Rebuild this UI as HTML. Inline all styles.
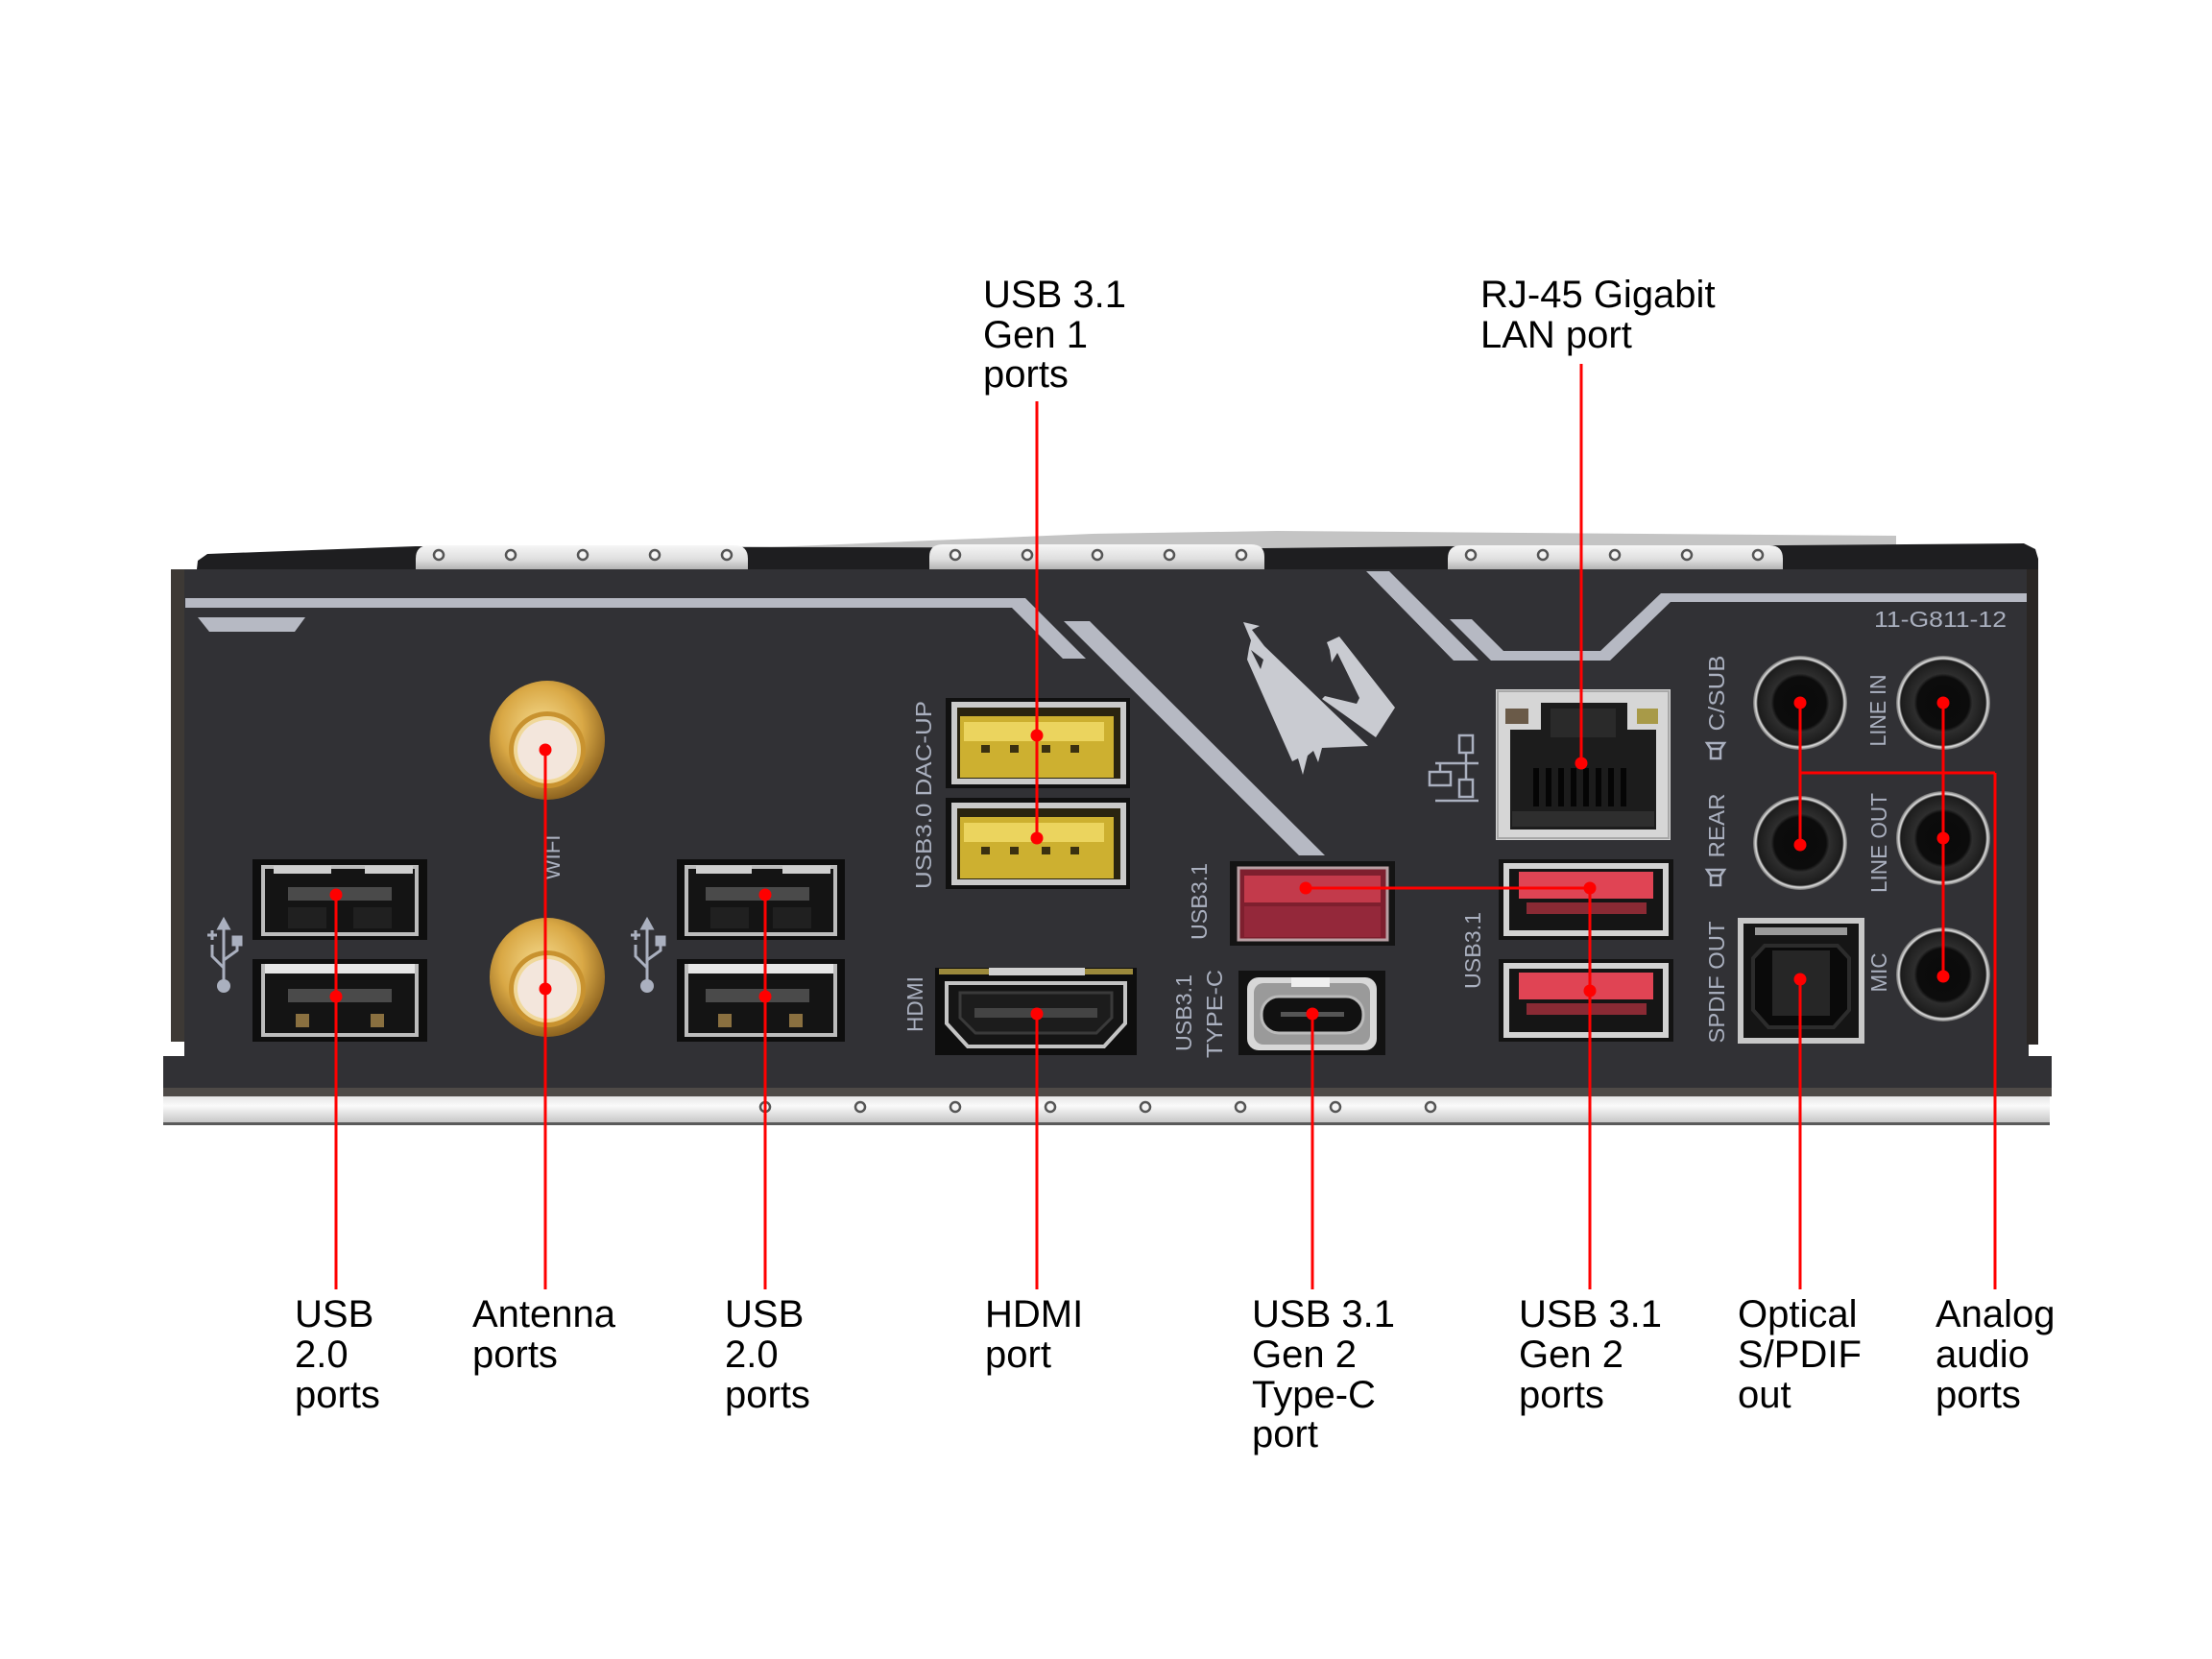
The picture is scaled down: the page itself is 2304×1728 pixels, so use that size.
<!DOCTYPE html>
<html><head><meta charset="utf-8"><style>
html,body{margin:0;padding:0;background:#fff;}
svg{display:block;}
.lbl{font-family:"Liberation Sans",Arial,sans-serif;font-size:40px;fill:#000;}
.bt{font-family:"Liberation Sans",Arial,sans-serif;fill:#aab0bf;font-size:23px;}
</style></head><body>
<svg width="2304" height="1728" viewBox="0 0 2304 1728" xmlns="http://www.w3.org/2000/svg">
<defs>
<linearGradient id="silv" x1="0" y1="0" x2="0" y2="1"><stop offset="0" stop-color="#f6f6f6"/><stop offset="0.6" stop-color="#dedede"/><stop offset="1" stop-color="#b4b4b4"/></linearGradient>
<linearGradient id="strip" x1="0" y1="0" x2="0" y2="1"><stop offset="0" stop-color="#e6e6e6"/><stop offset="0.35" stop-color="#fafafa"/><stop offset="1" stop-color="#c4c4c4"/></linearGradient>
<radialGradient id="gold" cx="0.45" cy="0.4" r="0.6"><stop offset="0" stop-color="#f6dc90"/><stop offset="0.6" stop-color="#d9a845"/><stop offset="1" stop-color="#8e6420"/></radialGradient>
<radialGradient id="jack" cx="0.5" cy="0.5" r="0.5"><stop offset="0" stop-color="#0a0a0a"/><stop offset="0.55" stop-color="#0c0c0c"/><stop offset="0.62" stop-color="#2e2e2e"/><stop offset="0.9" stop-color="#1c1c1c"/><stop offset="0.94" stop-color="#e0e0e0"/><stop offset="1" stop-color="#6a6a6a"/></radialGradient>
</defs>
<rect width="2304" height="1728" fill="#fff"/>

<!-- top back -->
<polygon points="779,571 1138,556 1330,553 1975,558 1975,569 779,576" fill="#c4c4c4"/>
<polygon points="205,593 206,584 216,577 433,569 1317,571 1508,569 1857,568 2108,566 2120,572 2123,582 2123,593" fill="#1e1e20"/>
<!-- tabs -->
<path d="M433,593 L433,582 Q433,568 447,568 L765,568 Q779,568 779,582 L779,593 Z" fill="url(#silv)"/>
<path d="M968,593 L968,580 Q968,567 982,567 L1303,567 Q1317,567 1317,580 L1317,593 Z" fill="url(#silv)"/>
<path d="M1508,593 L1508,582 Q1508,568 1522,568 L1843,568 Q1857,568 1857,582 L1857,593 Z" fill="url(#silv)"/>
<g fill="#f4f4f4" stroke="#555" stroke-width="2.5">
<circle cx="457" cy="578" r="5"/><circle cx="532" cy="578" r="5"/><circle cx="607" cy="578" r="5"/><circle cx="682" cy="578" r="5"/><circle cx="757" cy="578" r="5"/>
<circle cx="995" cy="578" r="5"/><circle cx="1070" cy="578" r="5"/><circle cx="1143" cy="578" r="5"/><circle cx="1218" cy="578" r="5"/><circle cx="1293" cy="578" r="5"/>
<circle cx="1532" cy="578" r="5"/><circle cx="1607" cy="578" r="5"/><circle cx="1682" cy="578" r="5"/><circle cx="1757" cy="578" r="5"/><circle cx="1831" cy="578" r="5"/>
</g>

<!-- plate -->
<rect x="192" y="593" width="1921" height="540" fill="#313135"/>
<rect x="178" y="593" width="14" height="492" fill="#3d3935"/>
<rect x="2111" y="593" width="12" height="495" fill="#2a2624"/>
<rect x="170" y="1100" width="1967" height="33" fill="#313135"/>
<rect x="170" y="1133" width="1967" height="9" fill="#4e4a47"/>
<rect x="170" y="1142" width="1965" height="28" fill="url(#strip)"/>
<rect x="170" y="1169" width="1965" height="3" fill="#5a5a5a"/>
<g fill="#f4f4f4" stroke="#555" stroke-width="2.5">
<circle cx="797" cy="1153" r="5"/><circle cx="896" cy="1153" r="5"/><circle cx="995" cy="1153" r="5"/><circle cx="1094" cy="1153" r="5"/><circle cx="1193" cy="1153" r="5"/><circle cx="1292" cy="1153" r="5"/><circle cx="1391" cy="1153" r="5"/><circle cx="1490" cy="1153" r="5"/>
</g>

<!-- stripes -->
<g fill="#b6b9c3">
<polygon points="193,623 1068,623 1131,686 1107,686 1054,633 193,633"/>
<polygon points="206,643 318,643 307,658 218,658"/>
<polygon points="1108,647 1135,647 1380,891 1353,891"/>
<polygon points="1423,595 1447,595 1540,688 1514,688"/>
<polygon points="1510,645 1533,645 1566,678 1667,678 1730,618 2111,618 2111,627 1740,627 1677,688 1553,688"/>
</g>
<!-- aorus logo -->
<g fill="#c9cbd1">
<polygon points="1295,648 1312,652 1304,656 1317,673 1425,777 1377,779 1373,794 1368,782 1362,787 1357,807 1352,790 1346,793 1299,687 1301,675 1303,667"/>
<polygon points="1382,669 1395,663 1453,737 1433,768 1377,728 1380,725 1413,733 1416,727 1393,680 1387,690 1385,677"/>
</g>
<polygon points="1303,677 1316,687 1313,697" fill="#313135"/>

<!-- USB 2.0 left -->
<g>
<rect x="263" y="895" width="182" height="84" fill="#0e0e0e"/>
<rect x="274" y="903" width="160" height="70" fill="#141414" stroke="#bcbcbc" stroke-width="4"/>
<rect x="285" y="902" width="60" height="8" fill="#cfcfcf"/><rect x="380" y="902" width="50" height="8" fill="#cfcfcf"/>
<rect x="300" y="924" width="108" height="14" fill="#4a4a4a"/>
<rect x="300" y="945" width="40" height="22" fill="#202020"/><rect x="368" y="945" width="40" height="22" fill="#202020"/>
<rect x="263" y="999" width="182" height="86" fill="#0e0e0e"/>
<rect x="274" y="1006" width="160" height="72" fill="#141414" stroke="#bcbcbc" stroke-width="4"/>
<rect x="276" y="1004" width="156" height="10" fill="#e6e6e6"/>
<rect x="300" y="1030" width="108" height="14" fill="#4a4a4a"/>
<rect x="308" y="1056" width="14" height="14" fill="#8a7040"/><rect x="386" y="1056" width="14" height="14" fill="#8a7040"/>
</g>
<!-- USB 2.0 middle -->
<g>
<rect x="705" y="895" width="175" height="84" fill="#0e0e0e"/>
<rect x="715" y="903" width="155" height="70" fill="#141414" stroke="#bcbcbc" stroke-width="4"/>
<rect x="725" y="902" width="58" height="8" fill="#cfcfcf"/><rect x="815" y="902" width="50" height="8" fill="#cfcfcf"/>
<rect x="735" y="924" width="108" height="14" fill="#4a4a4a"/>
<rect x="740" y="945" width="40" height="22" fill="#202020"/><rect x="805" y="945" width="40" height="22" fill="#202020"/>
<rect x="705" y="999" width="175" height="86" fill="#0e0e0e"/>
<rect x="715" y="1006" width="155" height="72" fill="#141414" stroke="#bcbcbc" stroke-width="4"/>
<rect x="717" y="1004" width="151" height="10" fill="#e6e6e6"/>
<rect x="735" y="1030" width="108" height="14" fill="#4a4a4a"/>
<rect x="748" y="1056" width="14" height="14" fill="#8a7040"/><rect x="822" y="1056" width="14" height="14" fill="#8a7040"/>
</g>

<!-- USB icons -->
<g fill="none" stroke="#aab0bf" stroke-width="3">
<line x1="233" y1="966" x2="233" y2="1022"/><path d="M233,958 l-5,9 h10 z" fill="#aab0bf"/>
<path d="M233,1008 L221,996 L221,984"/><path d="M233,1000 L247,990 L247,982"/>
<rect x="243" y="976" width="8" height="8" fill="#aab0bf"/>
<line x1="216" y1="974" x2="226" y2="974"/><line x1="221" y1="969" x2="221" y2="979"/>
<line x1="674" y1="966" x2="674" y2="1022"/><path d="M674,958 l-5,9 h10 z" fill="#aab0bf"/>
<path d="M674,1008 L662,996 L662,984"/><path d="M674,1000 L688,990 L688,982"/>
<rect x="684" y="976" width="8" height="8" fill="#aab0bf"/>
<line x1="657" y1="974" x2="667" y2="974"/><line x1="662" y1="969" x2="662" y2="979"/>
</g>
<circle cx="233" cy="1027" r="7" fill="#aab0bf"/>
<circle cx="674" cy="1027" r="7" fill="#aab0bf"/>

<!-- antennas -->
<g>
<ellipse cx="570" cy="771" rx="60" ry="62" fill="url(#gold)"/>
<circle cx="570" cy="781" r="40" fill="#c8922f"/>
<circle cx="570" cy="781" r="35" fill="#f0d89a"/>
<circle cx="570" cy="781" r="31" fill="#f3e6dc"/>
<ellipse cx="570" cy="1018" rx="60" ry="62" fill="url(#gold)"/>
<circle cx="570" cy="1030" r="40" fill="#c8922f"/>
<circle cx="570" cy="1030" r="35" fill="#f0d89a"/>
<circle cx="570" cy="1030" r="31" fill="#f3e6dc"/>
</g>

<!-- yellow USB 3.1 Gen1 -->
<g>
<rect x="985" y="727" width="192" height="94" fill="#101010"/>
<rect x="994" y="734" width="176" height="80" fill="#2a2410" stroke="#cacaca" stroke-width="6"/>
<rect x="1000" y="746" width="160" height="64" fill="#cdb030"/>
<rect x="1004" y="752" width="146" height="20" fill="#ebd45e"/>
<rect x="1022" y="776" width="9" height="8" fill="#3a3010"/><rect x="1052" y="776" width="9" height="8" fill="#3a3010"/><rect x="1085" y="776" width="9" height="8" fill="#3a3010"/><rect x="1115" y="776" width="9" height="8" fill="#3a3010"/>
<rect x="985" y="831" width="192" height="95" fill="#101010"/>
<rect x="994" y="839" width="176" height="80" fill="#2a2410" stroke="#cacaca" stroke-width="6"/>
<rect x="1000" y="851" width="160" height="64" fill="#cdb030"/>
<rect x="1004" y="857" width="146" height="20" fill="#ebd45e"/>
<rect x="1022" y="882" width="9" height="8" fill="#3a3010"/><rect x="1052" y="882" width="9" height="8" fill="#3a3010"/><rect x="1085" y="882" width="9" height="8" fill="#3a3010"/><rect x="1115" y="882" width="9" height="8" fill="#3a3010"/>
</g>

<!-- HDMI -->
<g>
<rect x="974" y="1008" width="210" height="91" fill="#0e0e0e"/>
<rect x="978" y="1009" width="202" height="6" fill="#9c8a3c"/>
<rect x="1030" y="1008" width="100" height="8" fill="#d0d0d0"/>
<polygon points="986,1024 1172,1024 1172,1066 1150,1090 1008,1090 986,1066" fill="#151515" stroke="#c4c4c4" stroke-width="4"/>
<polygon points="1000,1034 1158,1034 1158,1060 1142,1076 1016,1076 1000,1060" fill="#1c1c1c" stroke="#3a3a3a" stroke-width="3"/>
<rect x="1015" y="1050" width="128" height="10" fill="#444"/>
</g>

<!-- red USB3.1 single -->
<g>
<rect x="1281" y="897" width="172" height="88" fill="#141414"/>
<rect x="1290" y="904" width="155" height="75" fill="#7e1f2e" stroke="#b9a0a4" stroke-width="3"/>
<rect x="1296" y="912" width="142" height="28" fill="#c33a4b"/>
<rect x="1296" y="944" width="142" height="32" fill="#94283a"/>
</g>
<!-- Type-C -->
<g>
<rect x="1290" y="1011" width="153" height="88" fill="#121212"/>
<rect x="1299" y="1018" width="135" height="76" rx="12" fill="#d8d8d8"/>
<rect x="1306" y="1024" width="121" height="64" rx="10" fill="#9a9a9a"/>
<rect x="1314" y="1038" width="106" height="38" rx="18" fill="#111" stroke="#bbb" stroke-width="3"/>
<rect x="1334" y="1054" width="66" height="5" fill="#555"/>
<rect x="1345" y="1018" width="40" height="10" fill="#efefef"/>
</g>

<!-- RJ45 -->
<g>
<rect x="1558" y="718" width="182" height="157" fill="#d6d6d6"/>
<rect x="1560" y="720" width="178" height="153" fill="none" stroke="#a8a8a8" stroke-width="2"/>
<polygon points="1573,760 1605,760 1605,732 1695,732 1695,760 1725,760 1725,864 1573,864" fill="#1c1c1c"/>
<rect x="1615" y="738" width="68" height="30" fill="#2a2a2a"/>
<rect x="1568" y="738" width="24" height="16" fill="#6a5a48"/>
<rect x="1705" y="738" width="22" height="16" fill="#a89a48"/>
<g fill="#050505"><rect x="1597" y="800" width="6" height="40"/><rect x="1610" y="800" width="6" height="40"/><rect x="1623" y="800" width="6" height="40"/><rect x="1636" y="800" width="6" height="40"/><rect x="1649" y="800" width="6" height="40"/><rect x="1662" y="800" width="6" height="40"/><rect x="1675" y="800" width="6" height="40"/><rect x="1688" y="800" width="6" height="40"/></g>
<rect x="1575" y="845" width="148" height="16" fill="#2e2e2e"/>
</g>
<!-- LAN icon -->
<g fill="none" stroke="#aab0bf" stroke-width="2.5">
<rect x="1520" y="766" width="14" height="18"/><line x1="1527" y1="784" x2="1527" y2="795"/>
<line x1="1495" y1="795" x2="1540" y2="795"/>
<line x1="1500" y1="795" x2="1500" y2="804"/><rect x="1489" y="804" width="22" height="14"/>
<line x1="1527" y1="795" x2="1527" y2="812"/><rect x="1520" y="812" width="14" height="18"/>
<line x1="1495" y1="834" x2="1540" y2="834"/>
</g>

<!-- red USB gen2 stack -->
<g>
<rect x="1561" y="895" width="182" height="84" fill="#131313"/>
<rect x="1569" y="902" width="166" height="70" fill="#151515" stroke="#d2d2d2" stroke-width="6"/>
<rect x="1582" y="908" width="140" height="28" fill="#e04454"/>
<rect x="1590" y="940" width="125" height="12" fill="#8a2a34"/>
<rect x="1561" y="999" width="182" height="86" fill="#131313"/>
<rect x="1569" y="1006" width="166" height="72" fill="#151515" stroke="#d2d2d2" stroke-width="6"/>
<rect x="1582" y="1013" width="140" height="28" fill="#e04454"/>
<rect x="1590" y="1045" width="125" height="12" fill="#8a2a34"/>
</g>

<!-- optical -->
<g>
<rect x="1810" y="956" width="132" height="131" fill="#c8c8c8"/>
<rect x="1816" y="962" width="120" height="119" fill="#151515"/>
<rect x="1828" y="966" width="96" height="8" fill="#9a9a9a"/>
<polygon points="1838,985 1914,985 1926,998 1926,1052 1910,1070 1842,1070 1826,1052 1826,998" fill="#0a0a0a" stroke="#2c2c2c" stroke-width="4"/>
<rect x="1846" y="990" width="60" height="68" fill="#262626"/>
</g>

<!-- audio jacks -->
<g>
<circle cx="1875" cy="732" r="49" fill="url(#jack)"/>
<circle cx="2024" cy="732" r="49" fill="url(#jack)"/>
<circle cx="1875" cy="878" r="49" fill="url(#jack)"/>
<circle cx="2024" cy="873" r="49" fill="url(#jack)"/>
<circle cx="2024" cy="1015" r="49" fill="url(#jack)"/>
</g>

<!-- speaker icons -->
<g fill="none" stroke="#aab0bf" stroke-width="2.5">
<path d="M1782,780 h10 v10 h-10 z M1782,780 l-4,-6 h18 l-4,6"/>
<path d="M1782,912 h10 v10 h-10 z M1782,912 l-4,-6 h18 l-4,6"/>
</g>

<!-- board text -->
<text class="bt" transform="translate(962,828) rotate(-90)" text-anchor="middle" dominant-baseline="central" textLength="196" lengthAdjust="spacingAndGlyphs">USB3.0 DAC-UP</text>
<text class="bt" transform="translate(575,893) rotate(-90)" text-anchor="middle" dominant-baseline="central" textLength="47" lengthAdjust="spacingAndGlyphs">WIFI</text>
<text class="bt" transform="translate(953,1046) rotate(-90)" text-anchor="middle" dominant-baseline="central" textLength="58" lengthAdjust="spacingAndGlyphs">HDMI</text>
<text class="bt" transform="translate(1249,939) rotate(-90)" text-anchor="middle" dominant-baseline="central" textLength="80" lengthAdjust="spacingAndGlyphs">USB3.1</text>
<text class="bt" transform="translate(1233,1055) rotate(-90)" text-anchor="middle" dominant-baseline="central" textLength="80" lengthAdjust="spacingAndGlyphs">USB3.1</text>
<text class="bt" transform="translate(1265,1056) rotate(-90)" text-anchor="middle" dominant-baseline="central" textLength="92" lengthAdjust="spacingAndGlyphs">TYPE-C</text>
<text class="bt" transform="translate(1534,990) rotate(-90)" text-anchor="middle" dominant-baseline="central" textLength="80" lengthAdjust="spacingAndGlyphs">USB3.1</text>
<text class="bt" transform="translate(1788,722) rotate(-90)" text-anchor="middle" dominant-baseline="central" textLength="79" lengthAdjust="spacingAndGlyphs">C/SUB</text>
<text class="bt" transform="translate(1788,860) rotate(-90)" text-anchor="middle" dominant-baseline="central" textLength="67" lengthAdjust="spacingAndGlyphs">REAR</text>
<text class="bt" transform="translate(1788,1023) rotate(-90)" text-anchor="middle" dominant-baseline="central" textLength="127" lengthAdjust="spacingAndGlyphs">SPDIF OUT</text>
<text class="bt" transform="translate(1956,740) rotate(-90)" text-anchor="middle" dominant-baseline="central" textLength="75" lengthAdjust="spacingAndGlyphs">LINE IN</text>
<text class="bt" transform="translate(1957,878) rotate(-90)" text-anchor="middle" dominant-baseline="central" textLength="104" lengthAdjust="spacingAndGlyphs">LINE OUT</text>
<text class="bt" transform="translate(1957,1013) rotate(-90)" text-anchor="middle" dominant-baseline="central" textLength="41" lengthAdjust="spacingAndGlyphs">MIC</text>
<text class="bt" x="1952" y="653" font-size="21" textLength="138" lengthAdjust="spacingAndGlyphs">11-G811-12</text>

<!-- red connectors -->
<g stroke="#f00" stroke-width="3" fill="none">
<line x1="350" y1="932" x2="350" y2="1343"/>
<line x1="568" y1="781" x2="568" y2="1343"/>
<line x1="797" y1="932" x2="797" y2="1343"/>
<line x1="1080" y1="1056" x2="1080" y2="1343"/>
<line x1="1080" y1="418" x2="1080" y2="873"/>
<line x1="1647" y1="379" x2="1647" y2="795"/>
<line x1="1360" y1="925" x2="1656" y2="925"/>
<line x1="1656" y1="925" x2="1656" y2="1343"/>
<line x1="1367" y1="1056" x2="1367" y2="1343"/>
<line x1="1875" y1="1020" x2="1875" y2="1343"/>
<line x1="1875" y1="732" x2="1875" y2="880"/>
<line x1="2024" y1="732" x2="2024" y2="1017"/>
<line x1="1875" y1="805" x2="2078" y2="805"/>
<line x1="2078" y1="805" x2="2078" y2="1343"/>
</g>
<g fill="#f00">
<circle cx="350" cy="932" r="6.5"/><circle cx="350" cy="1038" r="6.5"/>
<circle cx="568" cy="781" r="6.5"/><circle cx="568" cy="1030" r="6.5"/>
<circle cx="797" cy="932" r="6.5"/><circle cx="797" cy="1038" r="6.5"/>
<circle cx="1080" cy="1056" r="6.5"/>
<circle cx="1080" cy="766" r="6.5"/><circle cx="1080" cy="873" r="6.5"/>
<circle cx="1647" cy="795" r="6.5"/>
<circle cx="1360" cy="925" r="6.5"/><circle cx="1656" cy="925" r="6.5"/><circle cx="1656" cy="1032" r="6.5"/>
<circle cx="1367" cy="1056" r="6.5"/>
<circle cx="1875" cy="1020" r="6.5"/>
<circle cx="1875" cy="732" r="6.5"/><circle cx="1875" cy="880" r="6.5"/>
<circle cx="2024" cy="732" r="6.5"/><circle cx="2024" cy="873" r="6.5"/><circle cx="2024" cy="1017" r="6.5"/>
</g>

<!-- labels -->
<g class="lbl">
<text x="1024" y="320">USB 3.1</text><text x="1024" y="362">Gen 1</text><text x="1024" y="403">ports</text>
<text x="1542" y="320">RJ-45 Gigabit</text><text x="1542" y="362">LAN port</text>
<text x="307" y="1382">USB</text><text x="307" y="1424">2.0</text><text x="307" y="1466">ports</text>
<text x="492" y="1382">Antenna</text><text x="492" y="1424">ports</text>
<text x="755" y="1382">USB</text><text x="755" y="1424">2.0</text><text x="755" y="1466">ports</text>
<text x="1026" y="1382">HDMI</text><text x="1026" y="1424">port</text>
<text x="1304" y="1382">USB 3.1</text><text x="1304" y="1424">Gen 2</text><text x="1304" y="1466">Type-C</text><text x="1304" y="1507">port</text>
<text x="1582" y="1382">USB 3.1</text><text x="1582" y="1424">Gen 2</text><text x="1582" y="1466">ports</text>
<text x="1810" y="1382">Optical</text><text x="1810" y="1424">S/PDIF</text><text x="1810" y="1466">out</text>
<text x="2016" y="1382">Analog</text><text x="2016" y="1424">audio</text><text x="2016" y="1466">ports</text>
</g>
</svg>
</body></html>
